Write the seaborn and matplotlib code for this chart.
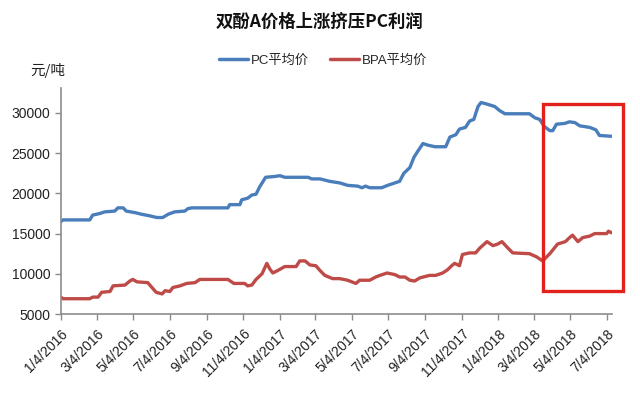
import matplotlib
matplotlib.use("Agg")
import matplotlib.pyplot as plt
import matplotlib.dates as mdates
from matplotlib.patches import Rectangle
import pandas as pd
import seaborn as sns

# ---------------- data ----------------
pc_dates = ["2016-01-04", "2016-01-07", "2016-02-21", "2016-02-26", "2016-03-09", "2016-03-17",
            "2016-04-03", "2016-04-08", "2016-04-17", "2016-04-22", "2016-05-07", "2016-05-18",
            "2016-06-01", "2016-06-12", "2016-06-22", "2016-07-01", "2016-07-12", "2016-07-29",
            "2016-08-03", "2016-08-10", "2016-10-09", "2016-10-12", "2016-10-29", "2016-11-01",
            "2016-11-11", "2016-11-18", "2016-11-25", "2016-12-01", "2016-12-11", "2016-12-26",
            "2017-01-04", "2017-01-12", "2017-02-20", "2017-02-26", "2017-03-12", "2017-03-28",
            "2017-04-14", "2017-04-27", "2017-05-14", "2017-05-21", "2017-05-27", "2017-06-03",
            "2017-06-23", "2017-07-03", "2017-07-15", "2017-07-23", "2017-07-30", "2017-08-09",
            "2017-08-16", "2017-08-22", "2017-08-31", "2017-09-08", "2017-09-20", "2017-10-08",
            "2017-10-15", "2017-10-25", "2017-10-31", "2017-11-10", "2017-11-17", "2017-11-24",
            "2017-12-01", "2017-12-06", "2017-12-16", "2017-12-29", "2018-01-06", "2018-01-15",
            "2018-02-25", "2018-03-06", "2018-03-14", "2018-03-22", "2018-03-31", "2018-04-05",
            "2018-04-11", "2018-04-25", "2018-05-03", "2018-05-12", "2018-05-20", "2018-06-06",
            "2018-06-16", "2018-06-22", "2018-07-12"]
pc_values = [16500, 16700, 16700, 17300, 17500, 17700,
             17800, 18200, 18200, 17800, 17600, 17400,
             17200, 17000, 17000, 17400, 17700, 17800,
             18100, 18200, 18200, 18600, 18600, 19200,
             19400, 19800, 19900, 20800, 22000, 22100,
             22200, 22000, 22000, 21800, 21800, 21500,
             21300, 21000, 20900, 20700, 20900, 20700,
             20700, 21000, 21300, 21500, 22500, 23200,
             24500, 25200, 26200, 26000, 25800, 25800,
             27000, 27300, 28000, 28200, 29000, 29200,
             30800, 31300, 31100, 30800, 30300, 29900,
             29900, 29400, 29200, 28300, 27800, 27800,
             28600, 28700, 28900, 28800, 28400, 28200,
             27900, 27200, 27100]

bpa_dates = ["2016-01-04", "2016-01-07", "2016-02-21", "2016-02-26", "2016-03-06", "2016-03-12",
             "2016-03-26", "2016-03-31", "2016-04-20", "2016-04-28", "2016-05-03", "2016-05-10",
             "2016-05-28", "2016-06-04", "2016-06-11", "2016-06-21", "2016-06-26", "2016-07-04",
             "2016-07-09", "2016-07-21", "2016-08-01", "2016-08-15", "2016-08-23", "2016-10-09",
             "2016-10-19", "2016-11-06", "2016-11-11", "2016-11-18", "2016-11-25", "2016-12-05",
             "2016-12-13", "2016-12-18", "2016-12-23", "2016-12-31", "2017-01-12", "2017-01-31",
             "2017-02-06", "2017-02-15", "2017-02-23", "2017-03-05", "2017-03-12", "2017-03-20",
             "2017-04-02", "2017-04-14", "2017-04-27", "2017-05-04", "2017-05-11", "2017-05-17",
             "2017-06-03", "2017-06-13", "2017-06-20", "2017-07-02", "2017-07-15", "2017-07-23",
             "2017-08-01", "2017-08-09", "2017-08-17", "2017-08-26", "2017-09-11", "2017-09-21",
             "2017-10-03", "2017-10-11", "2017-10-18", "2017-10-23", "2017-10-31", "2017-11-05",
             "2017-11-17", "2017-11-27", "2017-12-04", "2017-12-16", "2017-12-26", "2018-01-03",
             "2018-01-10", "2018-01-20", "2018-01-28", "2018-02-25", "2018-03-09", "2018-03-19",
             "2018-03-31", "2018-04-13", "2018-04-26", "2018-05-03", "2018-05-08", "2018-05-17",
             "2018-05-25", "2018-06-06", "2018-06-14", "2018-07-04", "2018-07-07", "2018-07-12"]
bpa_values = [7100, 6900, 6900, 7100, 7100, 7700,
              7800, 8500, 8600, 9100, 9300, 9000,
              8900, 8300, 7700, 7500, 7900, 7800,
              8300, 8500, 8800, 8900, 9300, 9300,
              8800, 8800, 8500, 8600, 9300, 10000,
              11300, 10600, 10100, 10400, 10900, 10900,
              11600, 11600, 11100, 11000, 10400, 9800,
              9400, 9400, 9200, 9000, 8800, 9200,
              9200, 9600, 9800, 10100, 9900, 9600,
              9600, 9200, 9100, 9500, 9800, 9800,
              10100, 10500, 11000, 11300, 11000, 12400,
              12600, 12600, 13200, 14000, 13500, 13700,
              14000, 13200, 12600, 12500, 12100, 11600,
              12500, 13700, 14000, 14500, 14800, 14000,
              14500, 14700, 15000, 15000, 15300, 15100]

series_names = ["PC平均价", "BPA平均价"]
tick_dates = ["2016-01-04", "2016-03-04", "2016-05-04", "2016-07-04", "2016-09-04", "2016-11-04",
              "2017-01-04", "2017-03-04", "2017-05-04", "2017-07-04", "2017-09-04", "2017-11-04",
              "2018-01-04", "2018-03-04", "2018-05-04", "2018-07-04"]
tick_labels = ["1/4/2016", "3/4/2016", "5/4/2016", "7/4/2016", "9/4/2016", "11/4/2016",
               "1/4/2017", "3/4/2017", "5/4/2017", "7/4/2017", "9/4/2017", "11/4/2017",
               "1/4/2018", "3/4/2018", "5/4/2018", "7/4/2018"]
y_ticks = [5000, 10000, 15000, 20000, 25000, 30000]
title = "双酚A价格上涨挤压PC利润"
unit = "元/吨"

# ---------------- plot ----------------
sns.set_theme(style="white")
plt.rcParams["font.family"] = ["Liberation Sans", "Noto Sans CJK SC", "DejaVu Sans"]

df = pd.concat([
    pd.DataFrame({"date": pd.to_datetime(pc_dates), "value": pc_values, "series": series_names[0]}),
    pd.DataFrame({"date": pd.to_datetime(bpa_dates), "value": bpa_values, "series": series_names[1]}),
])

fig = plt.figure(figsize=(6.4, 3.93), dpi=100)
ax = fig.add_axes([0.0953, 0.201, 0.861, 0.575])

palette = {series_names[0]: "#4A7EBB", series_names[1]: "#BE4B48"}
sns.lineplot(data=df, x="date", y="value", hue="series", palette=palette,
             linewidth=2.4, ax=ax, legend=False, estimator=None, sort=True)

ax.set_xlim(pd.Timestamp("2016-01-04"), pd.Timestamp("2018-07-13"))
ax.set_ylim(5000, 33100)
ax.set_yticks(y_ticks)
ax.set_yticklabels([str(v) for v in y_ticks], fontsize=10, color="#222222")
ax.set_xticks(pd.to_datetime(tick_dates))
ax.set_xticklabels(tick_labels, rotation=45, ha="right", rotation_mode="anchor",
                   fontsize=10, color="#222222")
ax.set_xlabel("")
ax.set_ylabel("")

for s in ["top", "right"]:
    ax.spines[s].set_visible(False)
for s in ["left", "bottom"]:
    ax.spines[s].set_color("#8C8C8C")
    ax.spines[s].set_linewidth(1.2)
ax.tick_params(axis="both", which="major", direction="out", length=4, width=1.0,
               color="#8C8C8C", left=True, bottom=True)
ax.tick_params(axis="x", pad=5)

# highlight box
x0 = mdates.date2num(pd.Timestamp("2018-03-19"))
x1 = mdates.date2num(pd.Timestamp("2018-08-01"))
rect = Rectangle((x0, 7900), x1 - x0, 31100 - 7900, fill=False,
                 edgecolor="#E3211C", linewidth=2.4, clip_on=False, zorder=5)
ax.add_patch(rect)

# title, legend, unit
fig.text(0.5, 0.945, title, ha="center", va="center", fontsize=12.5, fontweight="bold",
         family=["Noto Sans CJK SC", "DejaVu Sans"], color="#111111")
handles = [plt.Line2D([], [], color=palette[n], linewidth=2.5) for n in series_names]
fig.legend(handles, series_names, loc="center", bbox_to_anchor=(0.505, 0.845), ncol=2,
           frameon=False, handlelength=2.2, handletextpad=0.2, columnspacing=1.6,
           prop={"family": ["Liberation Sans", "Noto Sans CJK SC"], "size": 9.5})
fig.text(0.048, 0.82, unit, ha="left", va="center", fontsize=10.5,
         family=["Noto Sans CJK SC", "DejaVu Sans"], color="#222222")

fig.savefig("out.png", dpi=100, facecolor="white")
